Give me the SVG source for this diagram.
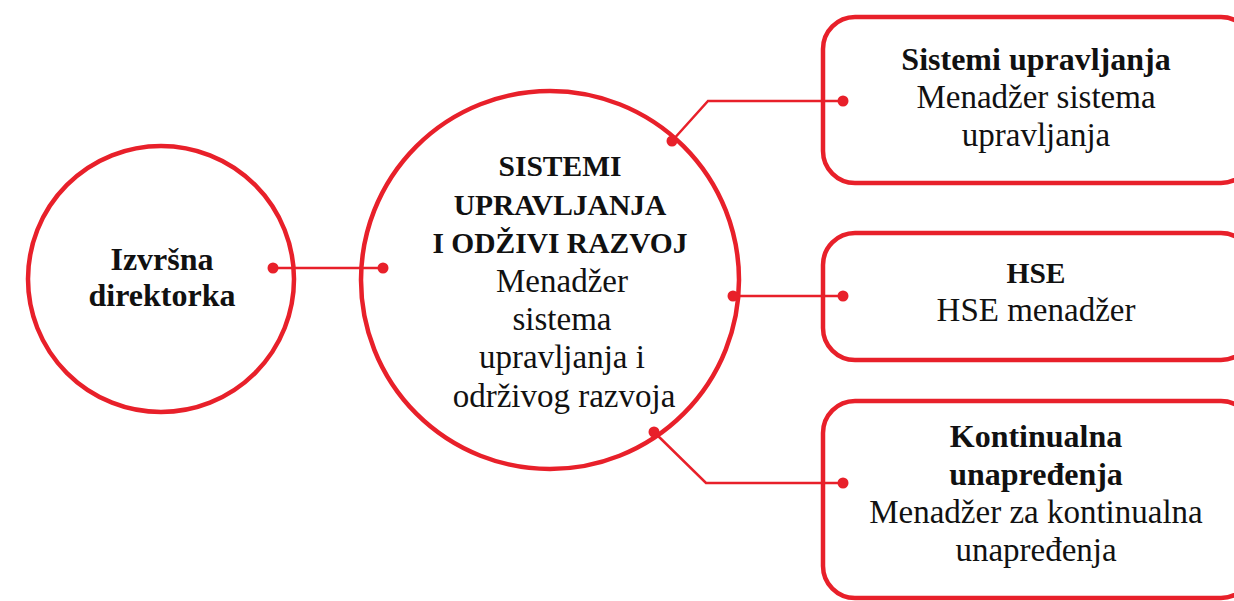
<svg xmlns="http://www.w3.org/2000/svg" width="1234" height="601" viewBox="0 0 1234 601">
<style>
.shape{fill:#fff;stroke:#e8202a;stroke-width:4.5}
.conn{fill:none;stroke:#e8202a;stroke-width:2.5}
.dot{fill:#e8202a}
text{font-family:"Liberation Serif","DejaVu Serif",serif;font-size:33px;fill:#111;text-anchor:middle}
.b{font-weight:bold;font-size:32px}
.c{font-weight:bold;font-size:29.5px}
</style>
<rect width="1234" height="601" fill="#fff"/>
<g id="node-izvrsna">
<circle class="shape" cx="161" cy="279" r="133"/>
<text class="b" x="162" y="270">Izvršna</text>
<text class="b" x="162" y="306">direktorka</text>
</g>
<g id="node-sistemi-center">
<circle class="shape" cx="550" cy="280" r="189"/>
<text class="c" x="560" y="176">SISTEMI</text>
<text class="c" x="560" y="215">UPRAVLJANJA</text>
<text class="c" x="560" y="253">I ODŽIVI RAZVOJ</text>
<text x="562" y="292">Menadžer</text>
<text x="562" y="330">sistema</text>
<text x="562" y="368">upravljanja i</text>
<text x="564" y="407">održivog razvoja</text>
</g>
<g id="node-sistemi-upravljanja">
<rect class="shape" x="823" y="17" width="430" height="166" rx="32"/>
<text class="b" x="1036" y="70">Sistemi upravljanja</text>
<text x="1036" y="108">Menadžer sistema</text>
<text x="1036" y="146">upravljanja</text>
</g>
<g id="node-hse">
<rect class="shape" x="823" y="233" width="430" height="127" rx="32"/>
<text class="c" x="1036" y="283">HSE</text>
<text x="1036" y="321">HSE menadžer</text>
</g>
<g id="node-kontinualna">
<rect class="shape" x="823" y="401" width="430" height="197" rx="32"/>
<text class="b" x="1036" y="447">Kontinualna</text>
<text class="b" x="1036" y="485">unapređenja</text>
<text x="1036" y="523">Menadžer za kontinualna</text>
<text x="1036" y="561">unapređenja</text>
</g>
<g id="connectors">
<path class="conn" d="M273 268H383"/>
<path class="conn" d="M672 141L708 101H843"/>
<path class="conn" d="M733 296H843"/>
<path class="conn" d="M654 432L706 483H843"/>
<circle class="dot" cx="273" cy="268" r="5.5"/>
<circle class="dot" cx="383" cy="268" r="5.5"/>
<circle class="dot" cx="672" cy="141" r="5.5"/>
<circle class="dot" cx="843" cy="101" r="5.5"/>
<circle class="dot" cx="733" cy="296" r="5.5"/>
<circle class="dot" cx="843" cy="296" r="5.5"/>
<circle class="dot" cx="654" cy="432" r="5.5"/>
<circle class="dot" cx="843" cy="483" r="5.5"/>
</g>
</svg>
